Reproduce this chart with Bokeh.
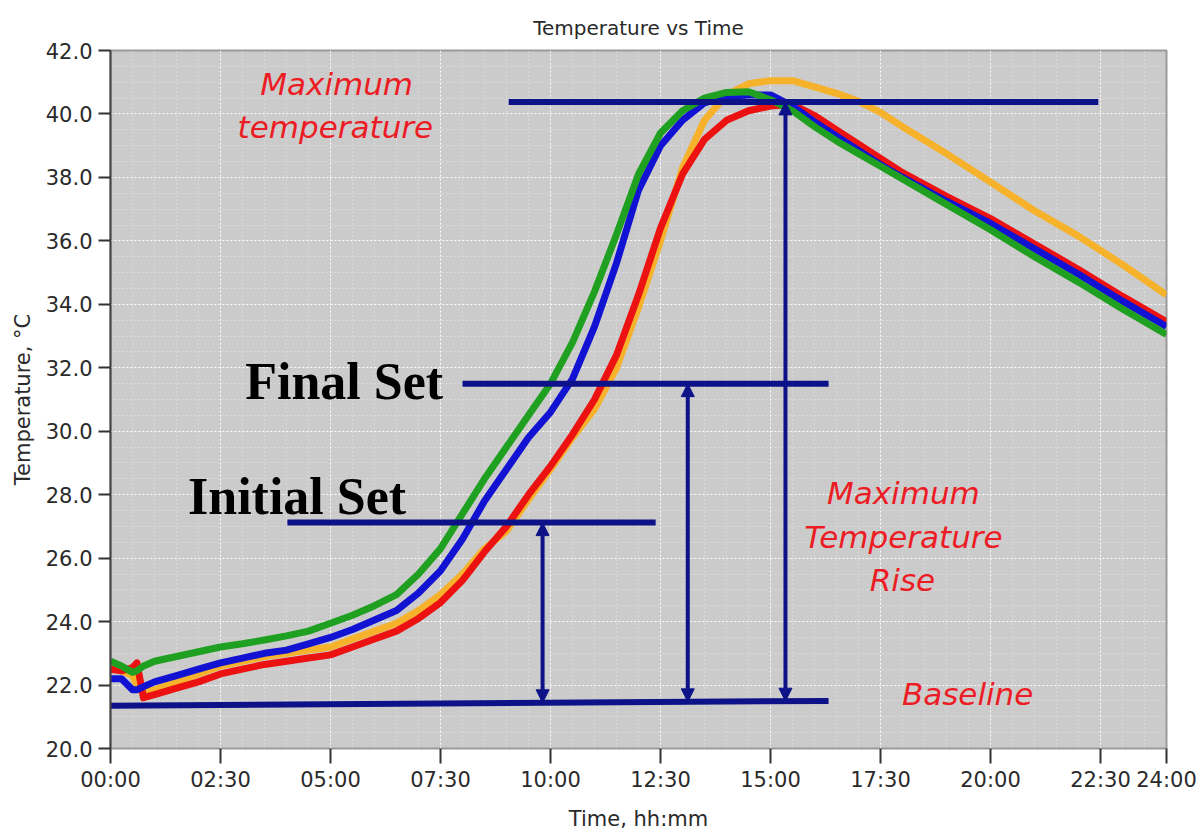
from bokeh.plotting import figure
from bokeh.models import ColumnDataSource, FixedTicker, Arrow, NormalHead, Range1d
from bokeh.core.properties import value
from bokeh.embed import file_html
from bokeh.resources import INLINE

# ---- data (time in hours, temperature in °C) ----
time_h = [0, 0.25, 0.5, 0.6, 0.75, 1, 1.5, 2, 2.5, 3, 3.5, 4, 4.5, 5, 5.5, 6, 6.5, 7, 7.5, 8,
          8.5, 9, 9.5, 10, 10.5, 11, 11.5, 12, 12.5, 13, 13.5, 14, 14.5, 15, 15.5, 16, 16.5,
          17, 17.5, 18, 19, 20, 21, 22, 23, 24]

green_temp = [22.75, 22.6, 22.4, 22.45, 22.6, 22.75, 22.9, 23.05, 23.2, 23.3, 23.42, 23.55, 23.7,
              23.95, 24.2, 24.5, 24.85, 25.5, 26.3, 27.4, 28.5, 29.5, 30.5, 31.5, 32.8, 34.4,
              36.2, 38.1, 39.4, 40.1, 40.5, 40.68, 40.7, 40.45, 40.1, 39.6, 39.15, 38.75, 38.35,
              37.95, 37.15, 36.35, 35.5, 34.7, 33.85, 33.05]
blue_temp = [22.2, 22.2, 21.85, 21.85, 21.95, 22.1, 22.3, 22.5, 22.7, 22.85, 23.0, 23.1, 23.3,
             23.5, 23.75, 24.05, 24.35, 24.9, 25.6, 26.6, 27.8, 28.8, 29.8, 30.6, 31.65, 33.3,
             35.3, 37.6, 39.0, 39.8, 40.35, 40.55, 40.6, 40.6, 40.25, 39.75, 39.3, 38.85, 38.4,
             38.0, 37.25, 36.55, 35.75, 34.95, 34.1, 33.3]
red_temp = [22.5, 22.45, 22.55, 22.7, 21.6, 21.7, 21.9, 22.1, 22.35, 22.5, 22.65, 22.75, 22.85,
            22.95, 23.2, 23.45, 23.7, 24.1, 24.6, 25.3, 26.2, 27.0, 28.0, 28.9, 29.9, 31.0,
            32.4, 34.3, 36.4, 38.1, 39.2, 39.8, 40.1, 40.25, 40.3, 39.95, 39.5, 39.05, 38.6,
            38.15, 37.4, 36.7, 35.9, 35.1, 34.25, 33.45]
orange_temp = [22.55, 22.45, 22.3, 22.0, 21.75, 21.85, 22.1, 22.35, 22.6, 22.75, 22.9, 23.0, 23.1,
               23.2, 23.45, 23.7, 23.95, 24.35, 24.85, 25.5, 26.3, 26.85, 27.85, 28.8, 29.8, 30.7,
               32.0, 33.9, 36.0, 38.3, 39.8, 40.6, 40.95, 41.05, 41.05, 40.85, 40.65, 40.4, 40.05,
               39.6, 38.75, 37.85, 36.95, 36.15, 35.25, 34.3]

# reference lines (level lines) and double arrows
level_x0 = [9.05, 8.0, 4.02]
level_x1 = [22.45, 16.32, 12.39]
level_y = [40.38, 31.5, 27.12]
baseline_x = [0.0, 16.32]
baseline_y = [21.35, 21.5]
arrow_x = [9.82, 13.12, 15.34]
arrow_bottom = [21.44, 21.47, 21.49]
arrow_top = [27.12, 31.5, 40.38]

# annotation texts
red_text = ["Maximum", "temperature", "Maximum", "Temperature", "Rise", "Baseline"]
red_x = [5.14, 5.11, 18.02, 18.02, 18.0, 19.48]
red_y = [40.95, 39.59, 28.06, 26.67, 25.31, 21.72]
black_text = ["Final Set", "Initial Set"]
black_x = [5.31, 4.24]
black_y = [31.57, 27.94]

x_tick_values = [0, 2.5, 5, 7.5, 10, 12.5, 15, 17.5, 20, 22.5, 24]
x_tick_labels = ["00:00", "02:30", "05:00", "07:30", "10:00", "12:30", "15:00",
                 "17:30", "20:00", "22:30", "24:00"]
y_tick_values = [20, 22, 24, 26, 28, 30, 32, 34, 36, 38, 40, 42]

NAVY = "#0d1288"
FONT = "DejaVu Sans"
TXT = "#2a2a2a"

p = figure(width=1199, height=835, x_range=Range1d(0, 24), y_range=Range1d(20, 42),
           output_backend="svg", toolbar_location=None,
           min_border_left=110, min_border_right=33, min_border_top=50, min_border_bottom=87,
           background_fill_color="#cbcbcb", border_fill_color="white",
           outline_line_color="#9a9a9a", outline_line_width=2)

p.title.text = "Temperature vs Time"
p.title.align = "center"
p.title.text_font = FONT
p.title.text_font_size = "20px"
p.title.text_font_style = "normal"
p.title.text_color = TXT
p.title.offset = -20
p.title.standoff = 22

# axes
p.xaxis.ticker = FixedTicker(ticks=x_tick_values)
p.xaxis.major_label_overrides = {v: l for v, l in zip(x_tick_values, x_tick_labels)}
p.yaxis.ticker = FixedTicker(ticks=y_tick_values)
p.yaxis.major_label_overrides = {v: f"{v:.1f}" for v in y_tick_values}
p.xaxis.axis_label = "Time, hh:mm"
p.yaxis.axis_label = "Temperature, °C"
for ax in (p.xaxis[0], p.yaxis[0]):
    ax.major_label_text_font = FONT
    ax.major_label_text_font_size = "21px"
    ax.major_label_text_color = TXT
    ax.axis_label_text_font = FONT
    ax.axis_label_text_font_size = "21px"
    ax.axis_label_text_font_style = "normal"
    ax.axis_label_text_color = TXT
    ax.minor_tick_line_color = None
    ax.major_tick_in = 0
    ax.major_tick_line_color = "#333333"
    ax.major_tick_line_width = 2
p.xaxis.axis_line_color = None
p.xaxis.major_tick_out = 15
p.xaxis.major_label_standoff = 4
p.xaxis.axis_label_standoff = 12
p.yaxis.axis_line_color = "#444444"
p.yaxis.axis_line_width = 2
p.yaxis.major_tick_out = 12
p.yaxis.major_label_standoff = 6
p.yaxis.axis_label_standoff = 8

# grid
p.xgrid.ticker = FixedTicker(ticks=x_tick_values, minor_ticks=[i * 0.5 for i in range(49)])
p.ygrid.ticker = FixedTicker(ticks=y_tick_values, minor_ticks=[20 + i * 0.5 for i in range(45)])
for g in (p.xgrid[0], p.ygrid[0]):
    g.grid_line_color = "white"
    g.grid_line_alpha = 0.9
    g.grid_line_dash = "2 2"
    g.grid_line_width = 1
    g.minor_grid_line_color = "white"
    g.minor_grid_line_alpha = 0.55
    g.minor_grid_line_dash = "1 3"

# curves
src = ColumnDataSource(dict(t=time_h, g=green_temp, b=blue_temp, r=red_temp, o=orange_temp))
p.line("t", "o", source=src, line_color="#f6b22a", line_width=7, line_join="round")
p.line("t", "r", source=src, line_color="#ec1212", line_width=7, line_join="round")
p.line("t", "b", source=src, line_color="#1212d2", line_width=7, line_join="round")
p.line("t", "g", source=src, line_color="#20a020", line_width=7, line_join="round")

# level lines
lvl = ColumnDataSource(dict(x0=level_x0, x1=level_x1, y=level_y))
p.segment(x0="x0", y0="y", x1="x1", y1="y", source=lvl, line_color=NAVY, line_width=6)
base = ColumnDataSource(dict(x=baseline_x, y=baseline_y))
p.line("x", "y", source=base, line_color=NAVY, line_width=6)

# double arrows
arr = ColumnDataSource(dict(x=arrow_x, yb=arrow_bottom, yt=arrow_top))
p.add_layout(Arrow(x_start="x", y_start="yb", x_end="x", y_end="yt", source=arr,
                   line_color=NAVY, line_width=4,
                   start=NormalHead(size=13, fill_color=NAVY, line_color=NAVY),
                   end=NormalHead(size=13, fill_color=NAVY, line_color=NAVY)))

# texts
rsrc = ColumnDataSource(dict(x=red_x, y=red_y, text=red_text))
p.text("x", "y", text="text", source=rsrc, text_font=value(FONT), text_font_style="italic",
       text_font_size="31px", text_color="#ec1c24", text_align="center", text_baseline="middle")
bsrc = ColumnDataSource(dict(x=black_x, y=black_y, text=black_text))
p.text("x", "y", text="text", source=bsrc, text_font=value("Liberation Serif"),
       text_font_style="bold", text_font_size="52px", text_color="black",
       text_align="center", text_baseline="middle")

open("out.html", "w").write(file_html(p, INLINE))
